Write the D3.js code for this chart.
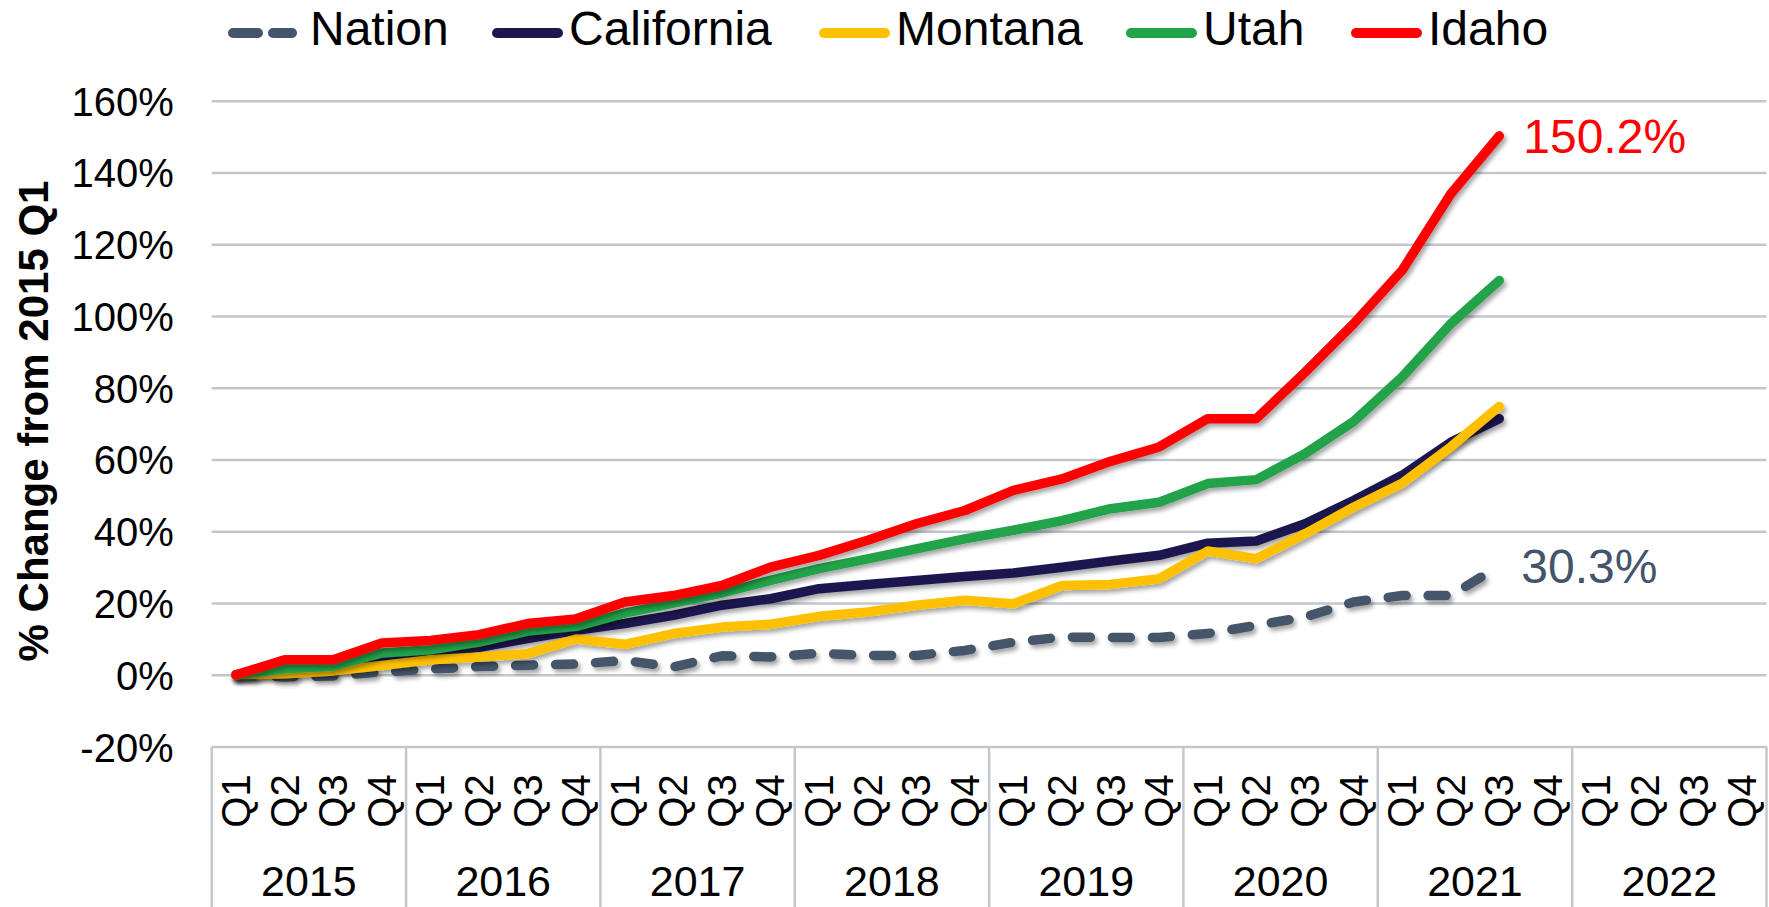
<!DOCTYPE html>
<html>
<head>
<meta charset="utf-8">
<title>% Change from 2015 Q1</title>
<script src="https://cdn.jsdelivr.net/npm/d3@7"></script>
<style>
  body { margin: 0; background: #fff; }
  svg text { font-family: "Liberation Sans", Arial, sans-serif; fill: #000; }
</style>
</head>
<body>
<svg id="chart" width="1769" height="907"></svg>
<script>
// categories
var years = ["2015", "2016", "2017", "2018", "2019", "2020", "2021", "2022"];
var quarters = ["Q1", "Q2", "Q3", "Q4"];
var yTicks = [-20, 0, 20, 40, 60, 80, 100, 120, 140, 160];

// % change from 2015 Q1, 2015 Q1 .. 2021 Q3
var nation     = [0, -0.6, -0.3, 0.8, 1.6, 2.3, 2.7, 3.0, 4.0, 2.2, 5.3, 5.0, 6.0, 5.4, 5.4, 6.8, 9.1, 10.5, 10.4, 10.4, 11.5, 13.8, 16.1, 20.3, 22.1, 22.1, 30.3];
var california = [0, 1.0, 2.0, 4.0, 5.9, 7.7, 10.1, 12.4, 14.3, 16.6, 19.4, 21.2, 24.0, 25.2, 26.3, 27.4, 28.4, 30.0, 31.7, 33.3, 36.7, 37.3, 42.1, 48.6, 55.6, 64.8, 71.4];
var montana    = [0, 0.3, 1.1, 2.6, 4.2, 5.0, 5.9, 10.0, 8.5, 11.5, 13.3, 14.1, 16.3, 17.5, 19.4, 20.8, 19.8, 24.9, 25.2, 26.8, 34.5, 32.4, 39.3, 46.7, 53.4, 63.5, 74.8];
var utah       = [0, 1.7, 2.4, 6.1, 7.0, 9.1, 12.2, 13.5, 17.2, 20.0, 22.8, 26.3, 29.6, 32.3, 35.1, 37.9, 40.3, 43.0, 46.3, 48.1, 53.3, 54.4, 61.6, 70.6, 83.0, 97.8, 109.9];
var idaho      = [0, 4.2, 4.2, 8.9, 9.6, 11.2, 14.3, 15.6, 20.3, 22.1, 24.9, 30.0, 33.3, 37.5, 42.1, 45.8, 51.4, 54.6, 59.5, 63.5, 71.4, 71.4, 84.3, 97.8, 112.7, 134.0, 150.2];

var seriesNames = ["Nation", "California", "Montana", "Utah", "Idaho"];
var seriesColors = ["#44546A", "#1F1650", "#FFC000", "#22A34A", "#FF0000"];
var seriesValues = [nation, california, montana, utah, idaho];

var svg = d3.select("#chart");
var plotLeft = 211.7, plotRight = 1766.5, plotTop = 100.7, plotBottom = 746.6;

// one slot per quarter
var cats = [];
years.forEach(function(yr){ quarters.forEach(function(q){ cats.push(yr + " " + q); }); });

var x = d3.scaleBand().domain(cats).range([plotLeft, plotRight]);
var y = d3.scaleLinear().domain([-20, 160]).range([plotBottom, plotTop]);
var grid = "#C3C7CD";

var defs = svg.append("defs");
defs.append("filter").attr("id", "shadow")
  .attr("x", "-5%").attr("y", "-5%").attr("width", "110%").attr("height", "115%")
  .append("feDropShadow")
  .attr("dx", 2.5).attr("dy", 3.5).attr("stdDeviation", 2.2)
  .attr("flood-color", "#000").attr("flood-opacity", 0.35);

// y axis with gridlines
var yAxis = svg.append("g")
  .attr("transform", "translate(" + plotLeft + ",0)")
  .call(d3.axisLeft(y).tickValues(yTicks).tickSize(-(plotRight - plotLeft)).tickPadding(38)
    .tickFormat(function(d){ return d + "%"; }));
yAxis.select(".domain").remove();
yAxis.selectAll(".tick line").attr("stroke", grid).attr("stroke-width", 2.5);
yAxis.selectAll(".tick text").style("font-size", "40px").attr("dy", "0.36em");

// y title
svg.append("text")
  .attr("transform", "translate(48," + 421 + ") rotate(-90)")
  .attr("text-anchor", "middle")
  .style("font-size", "42px").style("font-weight", "bold")
  .text("% Change from 2015 Q1");

// category axis: boxes per year
var catG = svg.append("g");
catG.selectAll("line.div")
  .data(d3.range(years.length + 1))
  .enter().append("line")
  .attr("x1", function(i){ return i < years.length ? x(years[i] + " Q1") : plotRight; })
  .attr("x2", function(i){ return i < years.length ? x(years[i] + " Q1") : plotRight; })
  .attr("y1", plotBottom).attr("y2", 910)
  .attr("stroke", grid).attr("stroke-width", 2.5);

catG.selectAll("text.q")
  .data(cats)
  .enter().append("text")
  .attr("transform", function(d){ return "translate(" + (x(d) + x.bandwidth() / 2 + 14) + ",801) rotate(-90)"; })
  .attr("text-anchor", "middle")
  .style("font-size", "40px")
  .text(function(d){ return d.split(" ")[1]; });

catG.selectAll("text.yr")
  .data(years)
  .enter().append("text")
  .attr("x", function(d){ return x(d + " Q1") + x.bandwidth() * 2; })
  .attr("y", 896)
  .attr("text-anchor", "middle")
  .style("font-size", "43px")
  .text(function(d){ return d; });

// series lines
var line = d3.line()
  .x(function(d, i){ return x(cats[i]) + x.bandwidth() / 2; })
  .y(function(d){ return y(d); });

seriesValues.forEach(function(vals, k){
  svg.append("path")
    .datum(vals)
    .attr("d", line)
    .attr("fill", "none")
    .attr("stroke", seriesColors[k])
    .attr("stroke-width", 9.5)
    .attr("stroke-linejoin", "round")
    .attr("stroke-linecap", "round")
    .attr("stroke-dasharray", k == 0 ? "18,22" : null)
    .attr("filter", "url(#shadow)");
});

// end labels
var lastI = idaho.length - 1;
svg.append("text")
  .attr("x", x(cats[lastI]) + x.bandwidth() / 2 + 24)
  .attr("y", y(idaho[lastI]) + 17)
  .style("font-size", "48px").style("fill", "#FF0000")
  .text(idaho[lastI].toFixed(1) + "%");
svg.append("text")
  .attr("x", x(cats[lastI]) + x.bandwidth() / 2 + 22)
  .attr("y", y(nation[lastI]) + 17)
  .style("font-size", "48px").style("fill", "#44546A")
  .text(nation[lastI].toFixed(1) + "%");

// legend
var legText = [310, 569, 896, 1203, 1428];
var leg = svg.append("g");
seriesNames.forEach(function(name, k){
  var x1 = k == 0 ? 233 : legText[k] - 72;
  var x2 = k == 0 ? 292 : legText[k] - 11;
  leg.append("line")
    .attr("x1", x1).attr("x2", x2)
    .attr("y1", 33).attr("y2", 33)
    .attr("stroke", seriesColors[k]).attr("stroke-width", 10)
    .attr("stroke-linecap", "round")
    .attr("stroke-dasharray", k == 0 ? "25,15" : null);
  leg.append("text")
    .attr("x", legText[k])
    .attr("y", 45)
    .style("font-size", "48px")
    .text(name);
});
</script>
</body>
</html>
